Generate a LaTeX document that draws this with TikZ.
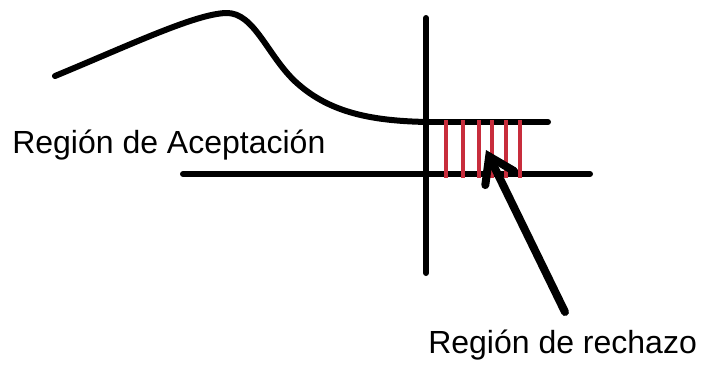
\documentclass[tikz,border=0pt]{standalone}
\usepackage{fontspec}
\setmainfont{Liberation Sans}
\usetikzlibrary{arrows.meta}
\definecolor{rayado}{RGB}{200,45,60}
\begin{document}
\begin{tikzpicture}[x=0.75pt,y=-0.75pt,
   trazo/.style={line width=4.5pt, line cap=round},
   etiqueta/.style={inner sep=0pt, anchor=base west, font=\fontsize{24}{28}\selectfont}]
   \useasboundingbox (0,0) rectangle (705,368);

   % ejes
   \draw[trazo] (426,18) -- (426,273);
   \draw[trazo] (183,174) -- (590,174);
   \draw[trazo] (426,122) -- (548,122);

   % curva
   \draw[trazo, line join=round] (55,76) .. controls (130,45) and (195,14) .. (226,13)
      .. controls (255,12) and (268,58) .. (298,84)
      .. controls (330,112) and (370,121) .. (428,122);

   % zona rayada
   \foreach \x in {446,463,479,492,506,520}
      \draw[rayado, line width=3pt] (\x,120) -- (\x,178);

   \node[etiqueta] (acep) at (12,153) {Región de Aceptación};
   \node[etiqueta] (rech) at (428,353) {Región de rechazo};

   \coordinate (cola) at (565,312);
   \coordinate (punta) at (486,150);
   \draw[line width=6pt, line cap=round, -{Straight Barb[length=18pt,width=24pt,line cap=round]}] (cola) -- (punta);
\end{tikzpicture}
\end{document}
